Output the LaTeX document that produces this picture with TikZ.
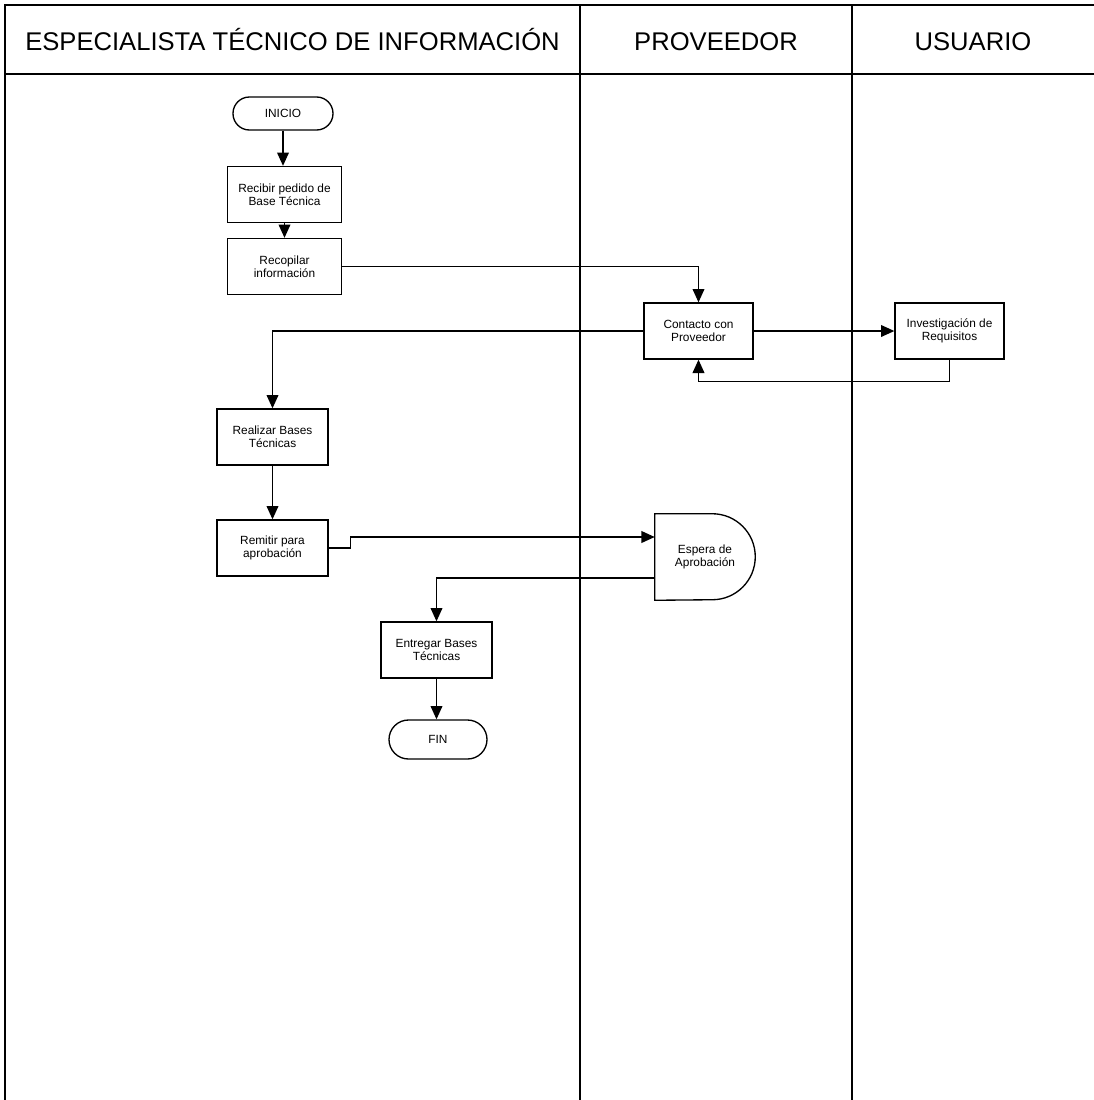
\documentclass[tikz,border=0pt]{standalone}
\usepackage{fontspec}
\setmainfont{Liberation Sans}
\usetikzlibrary{arrows.meta,calc}
\begin{document}
\begin{tikzpicture}[x=0.75pt,y=-0.75pt,
  lane/.style={line width=1.9pt},
  frame/.style={line width=1.5pt},
  thinrule/.style={line width=0.9pt},
  head/.style={font=\fontsize{19.2}{22}\selectfont,inner sep=0pt,anchor=base},
  proc/.style={draw,line width=1pt,rectangle,minimum width=83.25pt,minimum height=42pt,
    inner sep=1pt,align=center,font=\fontsize{8.9}{10}\selectfont},
  term/.style={draw,line width=1pt,rectangle,align=center,inner sep=1pt,
    font=\fontsize{8.9}{10}\selectfont},
  flow/.style={line width=1.1pt,-{Triangle[length=10pt,width=8.8pt]}},
  link/.style={line width=1.1pt}]

\useasboundingbox (0,0) rectangle (1094,1100);

% swimlane frame
\draw[frame] (5,1100) -- (5,5) -- (1094,5);
\draw[thinrule] (5,74) -- (580,74);
\draw[frame] (580,74) -- (1094,74);
\draw[lane] (580,5) -- (580,1100);
\draw[lane] (852,5) -- (852,1100);

% lane headings
\node[head] (h1) at (292.5,50) {ESPECIALISTA TÉCNICO DE INFORMACIÓN};
\node[head] (h2) at (716,50) {PROVEEDOR};
\node[head] (h3) at (973,50) {USUARIO};

% process steps
\node[term,minimum width=75pt,minimum height=24.75pt,rounded corners=12.3pt] (inicio) at (283,113.5) {INICIO};
\node[proc,minimum width=85.5pt] (recibir) at (284.5,194.5) {Recibir pedido de\\Base Técnica};
\node[proc,minimum width=85.5pt] (recopilar) at (284.5,266.5) {Recopilar\\información};
\node[proc,minimum width=81.75pt] (contacto) at (698.5,331) {Contacto con\\Proveedor};
\node[proc,minimum width=81.75pt] (invest) at (949.5,331) {Investigación de\\Requisitos};
\node[proc] (realizar) at (272.5,437) {Realizar Bases\\Técnicas};
\node[proc] (remitir) at (272.5,548) {Remitir para\\aprobación};
\node[rectangle,minimum width=75pt,minimum height=64.5pt,inner sep=1pt,align=center,
  font=\fontsize{8.9}{10}\selectfont] (espera) at (705,557) {Espera de\\Aprobación};
\draw[line width=1pt] (espera.north west) -- ($(espera.north east)+(-43,0)$)
  arc[start angle=90,end angle=-90,radius=32.25pt] -- (espera.south west) -- cycle;
\node[proc] (entregar) at (436.5,650) {Entregar Bases\\Técnicas};
\node[term,minimum width=73.5pt,minimum height=29.25pt,rounded corners=14.6pt] (fin) at (438,739.5) {FIN};

% connectors
\draw[flow] (inicio.south) -- (inicio.south |- recibir.north);
\draw[flow] (recibir.south) -- (recopilar.north);
\draw[flow] (recopilar.east) -| (contacto.north);
\draw[flow] (contacto.east) -- (invest.west);
\draw[flow] (invest.south) -- ++(0,22) -| (contacto.south);
\draw[flow] (contacto.west) -| (realizar.north);
\draw[flow] (realizar.south) -- (remitir.north);
\coordinate (espin) at ($(espera.west)+(0,-20)$);
\coordinate (espout) at ($(espera.west)+(0,21)$);
\draw[flow] (remitir.east) -- ++(22,0) |- (espin);
\draw[flow] (espout) -| (entregar.north);
\draw[flow] (entregar.south) -- (entregar.south |- fin.north);
\end{tikzpicture}
\end{document}
